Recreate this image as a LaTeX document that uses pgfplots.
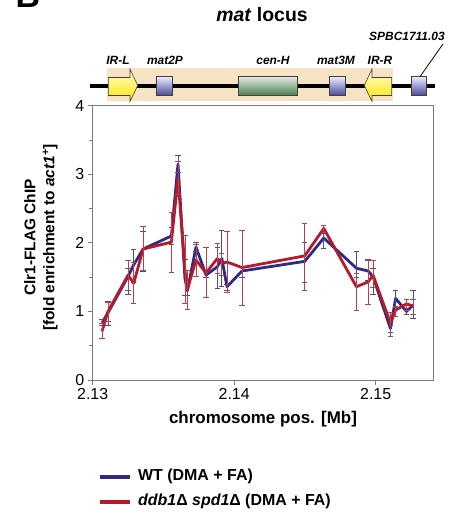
\documentclass[border=0pt]{standalone}
\usepackage{fontspec}
\setmainfont{Liberation Sans}
\usepackage{pgfplots}
\pgfplotsset{compat=1.18}
\usepackage{pgfplotstable}

\definecolor{wtblue}{HTML}{2E2A85}
\definecolor{dred}{HTML}{B31B2B}
\definecolor{axgray}{HTML}{7A7A7A}
\definecolor{beige}{HTML}{F5E3C4}

% x = position [Mb], y = fold enrichment, hi/lo = ends of the error bar
\pgfplotstableread{
x       y     hi    lo
2.13066 0.835 0.88  0.79
2.13108 0.98  1.15  0.79
2.13250 1.51  1.63  1.25
2.13290 1.68  1.90  1.42
2.13356 1.91  2.16  1.58
2.13556 2.10  2.23  1.97
2.13603 3.15  3.27  3.02
2.13652 1.48  1.76  1.24
2.13669 1.30  1.36  1.24
2.13730 1.94  2.00  1.88
2.13801 1.53  1.58  1.50
2.13880 1.65  1.94  1.34
2.13913 1.77  2.18  1.37
2.13949 1.36  1.40  1.30
2.14055 1.59  1.65  1.49
2.14498 1.73  2.00  1.42
2.14633 2.07  2.14  1.92
2.14864 1.63  1.87  1.50
2.14946 1.59  1.76  1.45
2.14981 1.51  1.63  1.25
2.15104 0.75  0.80  0.70
2.15141 1.19  1.30  1.07
2.15217 1.00  1.04  0.96
2.15264 1.09  1.30  0.90
}\wtdata

\pgfplotstableread{
x       y     hi    lo
2.13066 0.71  0.83  0.60
2.13108 1.00  1.13  0.85
2.13250 1.53  1.74  1.30
2.13290 1.41  1.72  1.11
2.13356 1.91  2.24  1.60
2.13556 2.01  2.44  1.57
2.13603 2.94  3.19  2.70
2.13652 1.60  2.11  1.11
2.13669 1.32  1.60  1.03
2.13730 1.75  1.97  1.51
2.13801 1.56  1.93  1.21
2.13880 1.77  1.99  1.55
2.13913 1.70  1.84  1.53
2.13949 1.72  2.16  1.27
2.14055 1.64  2.18  1.08
2.14498 1.81  2.29  1.31
2.14633 2.21  2.25  2.15
2.14864 1.36  1.56  1.01
2.14946 1.43  1.75  1.10
2.14981 1.53  1.74  1.35
2.15104 0.83  0.98  0.63
2.15141 1.02  1.06  0.93
2.15217 1.11  1.18  1.01
2.15264 1.08  1.17  0.96
}\ddbdata

\begin{document}
\begin{tikzpicture}
\begin{axis}[
  at={(92.7bp,-380bp)}, anchor=south west,
  scale only axis, width=340.6bp, height=274.3bp,
  xmin=2.13, xmax=2.15407, ymin=0, ymax=4,
  xtick={2.13,2.14,2.15}, xticklabels={2.13,2.14,2.15},
  ytick={0,1,2,3,4}, minor ytick={0.5,1.5,2.5,3.5},
  xtick pos=left, ytick pos=left, tick align=outside,
  major tick length=5bp, minor tick length=3.5bp,
  axis line style={axgray, line width=0.9bp},
  every tick/.style={axgray, line width=0.9bp},
  tick label style={font=\fontsize{16}{18}\selectfont},
  /pgf/number format/assume math mode=true,
  xlabel={chromosome pos. [Mb]},
  xlabel style={font=\bfseries\fontsize{17}{20}\selectfont, at={(axis description cs:0.5,0)}, anchor=north, yshift=-28bp},
  ylabel={Clr1-FLAG ChIP\\{}[fold enrichment to \textit{act1}\textsuperscript{+}]},
  ylabel style={font=\bfseries\fontsize{15.5}{19}\selectfont, align=center, at={(axis description cs:-0.152,0.52)}, anchor=center},
  error bars/y dir=both, error bars/y explicit,
]
\addplot[wtblue, line width=2.8bp, line join=round,
  error bars/.cd, error bar style={wtblue!85, line width=0.9bp},
  error mark options={rotate=90, wtblue!85, mark size=2.6bp, line width=0.9bp}]
  table[x=x, y=y, y error plus expr=\thisrow{hi}-\thisrow{y}, y error minus expr=\thisrow{y}-\thisrow{lo}] {\wtdata};
\addplot[dred, line width=2.8bp, line join=round,
  error bars/.cd, error bar style={dred!85, line width=0.9bp},
  error mark options={rotate=90, dred!85, mark size=2.6bp, line width=0.9bp}]
  table[x=x, y=y, y error plus expr=\thisrow{hi}-\thisrow{y}, y error minus expr=\thisrow{y}-\thisrow{lo}] {\ddbdata};
\end{axis}

\begin{scope}[x=1bp, y=1bp]
  % panel letter and title
  \node[anchor=base west, font=\bfseries\fontsize{34}{34}\selectfont] at (12,-7) {B};
  \node[font=\bfseries\fontsize{19.5}{22}\selectfont] at (262,-15) {\textit{mat} locus};
  % mat locus map
  \fill[beige] (107,-68) rectangle (393,-101);
  \draw[black, line width=4.5] (90,-86) -- (435,-86);
  \path[draw=black!75, line width=0.6, top color=yellow!15, bottom color=yellow!80!orange]
    (108.3,-77.5) -- (130,-77.5) -- (130,-69) -- (137.7,-85.5) -- (130,-101.5) -- (130,-95.5) -- (108.3,-95.5) -- cycle;
  \path[draw=black!75, line width=0.6, top color=yellow!15, bottom color=yellow!80!orange]
    (391.7,-77.5) -- (372,-77.5) -- (372,-69) -- (364.3,-85.5) -- (372,-101.5) -- (372,-95.5) -- (391.7,-95.5) -- cycle;
  \path[draw=black!75, line width=0.6, top color=blue!8, bottom color=blue!45!black!70] (156.7,-76.7) rectangle (172,-95);
  \path[draw=black!75, line width=0.6, top color=green!5!gray!20, bottom color=green!30!black!70] (238.3,-76.7) rectangle (297.3,-95);
  \path[draw=black!75, line width=0.6, top color=blue!8, bottom color=blue!45!black!70] (329.3,-76.7) rectangle (345,-95);
  \path[draw=black!75, line width=0.6, top color=blue!8, bottom color=blue!45!black!70] (411,-76.7) rectangle (426.7,-95);
  \draw[line width=0.8] (420,-76.7) -- (443,-44);
  \begin{scope}[font=\bfseries\itshape\fontsize{12}{14}\selectfont]
    \node at (118,-60) {IR-L};
    \node at (165,-60) {mat2P};
    \node at (273,-60) {cen-H};
    \node at (336,-60) {mat3M};
    \node at (380,-60) {IR-R};
    \node at (407,-36) {SPBC1711.03};
  \end{scope}
  % legend
  \draw[wtblue, line width=4] (100,-476.7) -- (130,-476.7);
  \draw[dred, line width=4] (100,-501.7) -- (130,-501.7);
  \node[anchor=west, inner sep=0, font=\bfseries\fontsize{16}{18}\selectfont] at (138,-476.7) {WT (DMA + FA)};
  \node[anchor=west, inner sep=0, font=\bfseries\fontsize{16}{18}\selectfont] at (138,-501.7) {\textit{ddb1}Δ \textit{spd1}Δ (DMA + FA)};
\end{scope}
\pgfresetboundingbox
\path[use as bounding box] (0,0) rectangle (453bp,-519bp);
\end{tikzpicture}
\end{document}
